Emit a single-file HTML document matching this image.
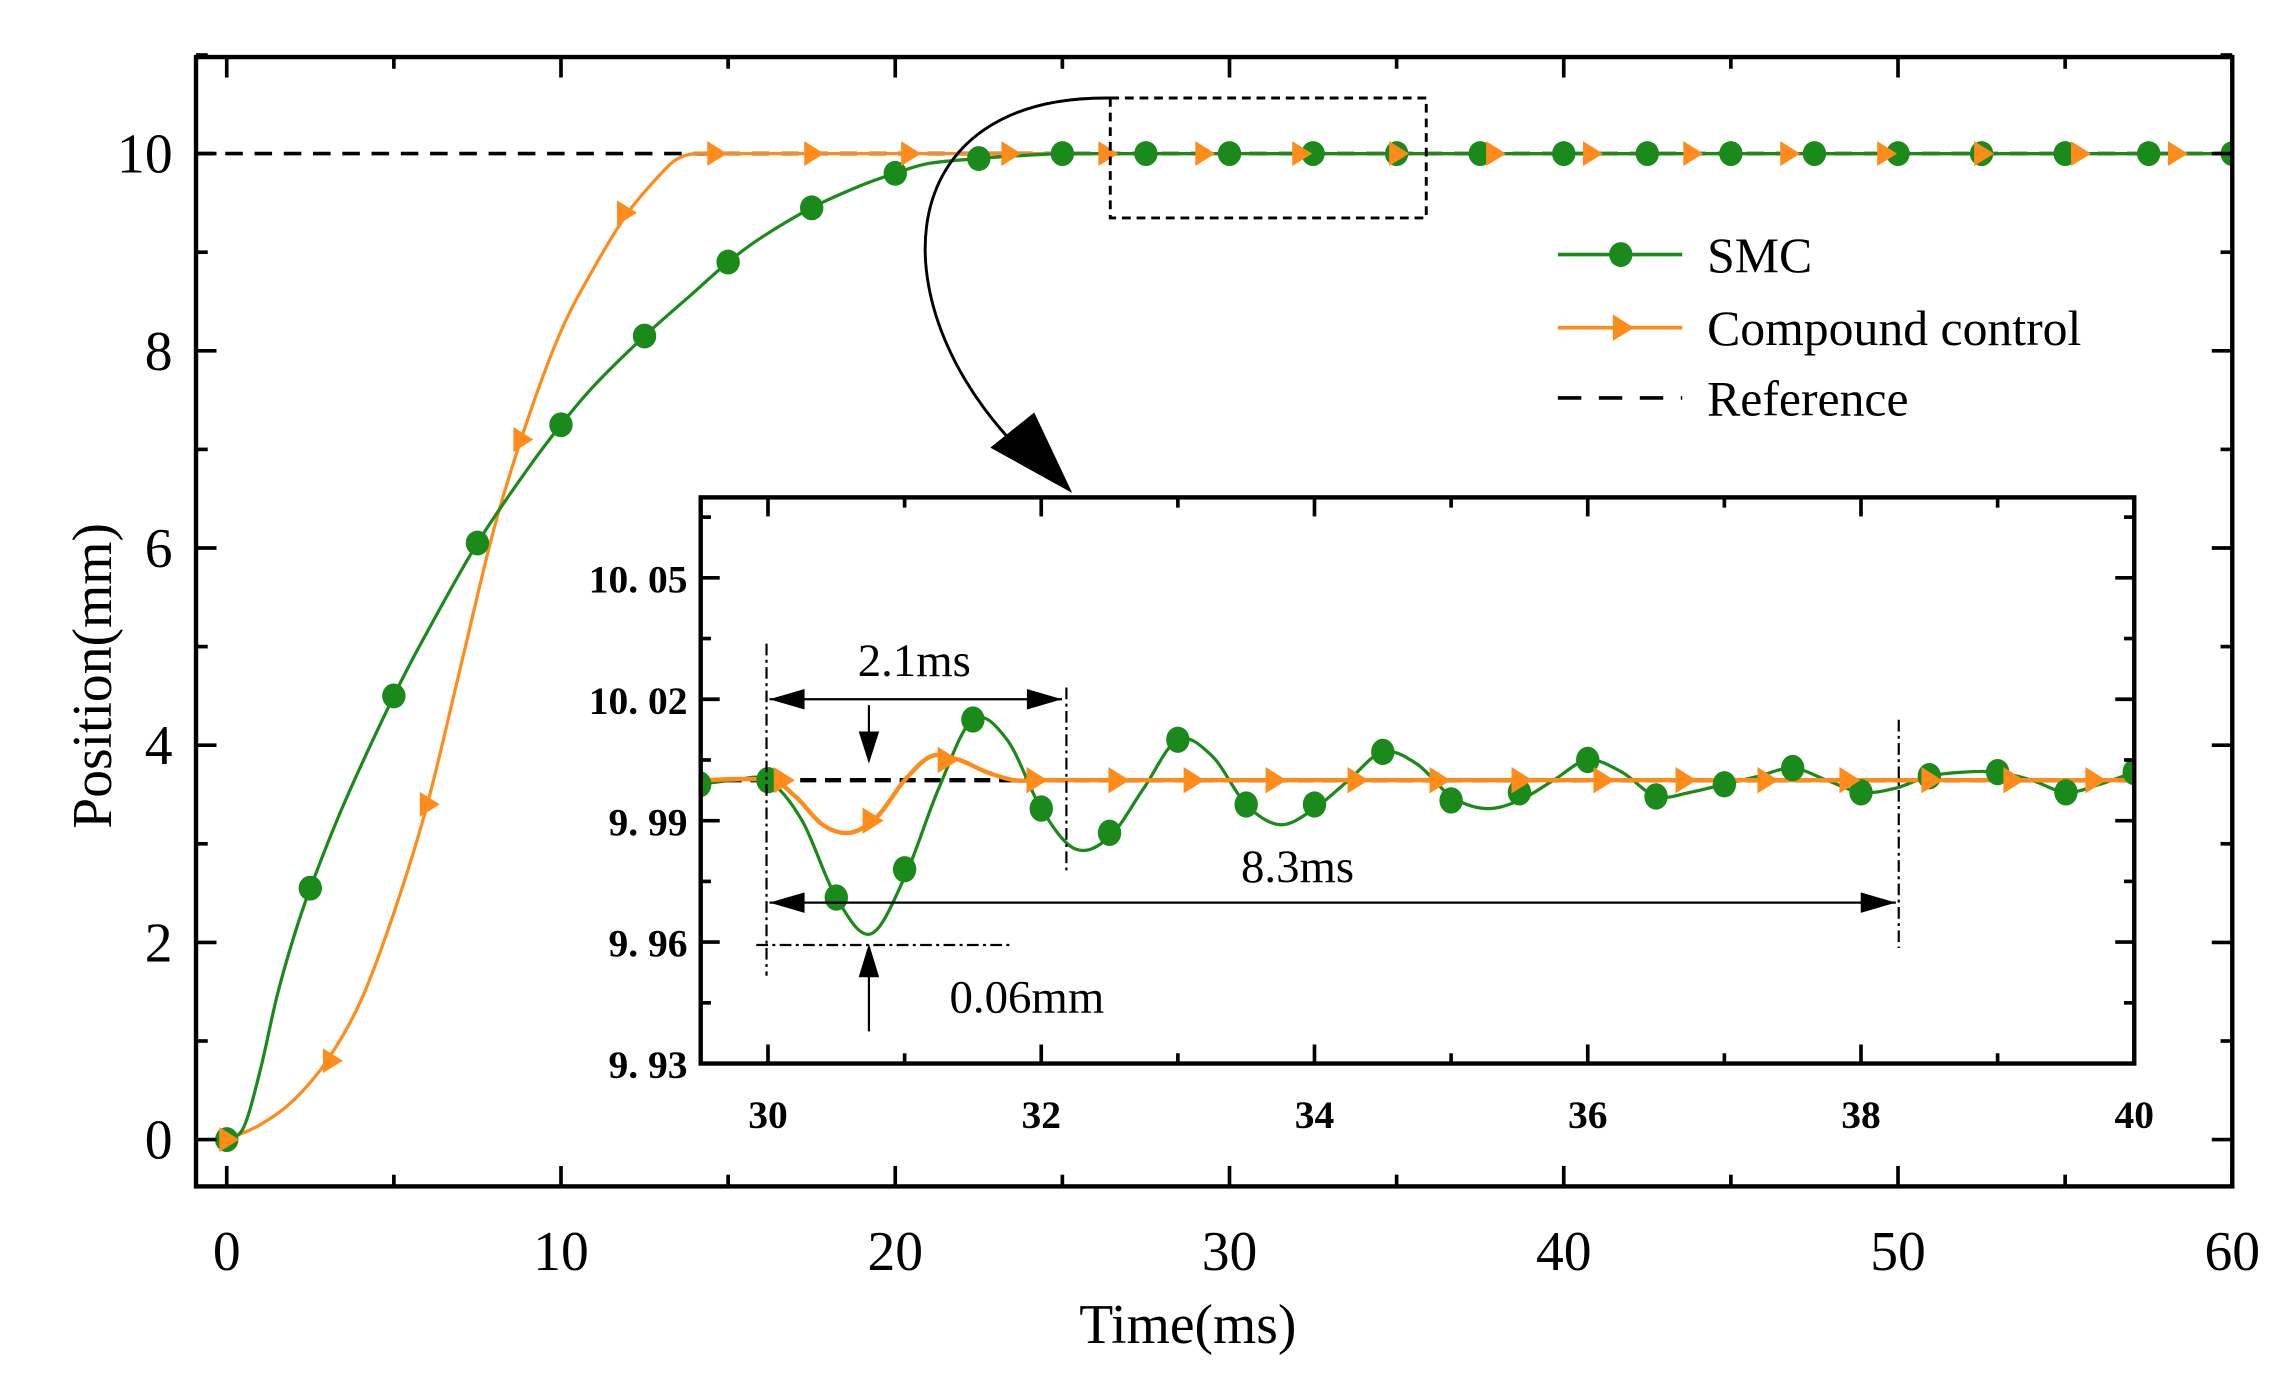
<!DOCTYPE html>
<html><head><meta charset="utf-8"><style>
html,body{margin:0;padding:0;background:#fff;}
svg{display:block;}
text{font-family:"Liberation Serif",serif;fill:#000;}
</style></head>
<body>
<svg id="chart" width="2282" height="1376" viewBox="0 0 1560 940.6" preserveAspectRatio="none" xmlns="http://www.w3.org/2000/svg">
<defs>
<clipPath id="mainclip"><rect x="134" y="39" width="1391" height="772"/></clipPath>
<clipPath id="insetclip"><rect x="480" y="341" width="978" height="385"/></clipPath>
</defs>
<g id="main"></g>
<g id="inset"></g>
</svg>
<script>
// ---- main chart data ----
const smcLineT = [0,0.5,1,1.5,2,2.5,3.5,5,6,7.5,9,10,11,12.5,14,15,16,17.5,19,20,21,22.5,24,25,26,27.5,30,35,40,45,50,55,60];
const smcLineV = [0,0.12,0.7,1.45,2.05,2.55,3.4,4.5,5.15,6.05,6.8,7.25,7.65,8.15,8.6,8.9,9.15,9.45,9.68,9.8,9.9,9.95,9.985,10,10,10,10,10,10,10,10,10,10];
const smcMarkT = [0,2.5,5,7.5,10,12.5,15,17.5,20,22.5,25,27.5,30,32.5,35,37.5,40,42.5,45,47.5,50,52.5,55,57.5,60];
const smcMarkV = [0,2.55,4.5,6.05,7.25,8.15,8.9,9.45,9.8,9.95,10,10,10,10,10,10,10,10,10,10,10,10,10,10,10];
const cmpLineT = [0,1,2,3,4,5,6,7,8,9,10,11,12,13,13.5,14,14.5,15,16,20,30,40,50,60];
const cmpLineV = [0,0.15,0.4,0.8,1.4,2.3,3.4,4.8,6.2,7.3,8.2,8.85,9.4,9.8,9.95,10,10,10,10,10,10,10,10,10];
const cmpMarkT = [0,3.1,6,8.8,11.9,14.6,17.5,20.4,23.4,26.3,29.2,32.1,35,37.9,40.8,43.8,46.7,49.6,52.5,55.4,58.3];
const cmpMarkV = [0,0.8,3.4,7.1,9.4,10,10,10,10,10,10,10,10,10,10,10,10,10,10,10,10];
const xTicks = [0,10,20,30,40,50,60];
const yTicks = [0,2,4,6,8,10];
// ---- inset data ----
const insSmcT = [29.5,29.75,30,30.25,30.5,30.75,31,31.25,31.5,31.75,32,32.25,32.5,32.75,33,33.25,33.5,33.75,34,34.25,34.5,34.75,35,35.25,35.5,35.75,36,36.25,36.5,36.75,37,37.25,37.5,37.75,38,38.25,38.5,38.75,39,39.25,39.5,39.75,40];
const insSmcV = [9.999,10.0,10.0,9.99,9.971,9.962,9.976,9.998,10.015,10.01,9.993,9.983,9.986,9.998,10.01,10.006,9.994,9.989,9.993,10.0,10.007,10.004,9.996,9.993,9.995,10.0,10.005,10.002,9.996,9.997,9.999,10.001,10.003,10.0,9.997,9.998,10.001,10.002,10.002,10.0,9.997,9.999,10.002];
const insSmcMarkT = [29.5,30,30.5,31,31.5,32,32.5,33,33.5,34,34.5,35,35.5,36,36.5,37,37.5,38,38.5,39,39.5,40];
const insSmcMarkV = [9.999,10.0,9.971,9.978,10.015,9.993,9.987,10.01,9.994,9.994,10.007,9.995,9.997,10.005,9.996,9.999,10.003,9.997,10.001,10.002,9.997,10.002];
const insCmpT = [29.5,30,30.2,30.4,30.6,30.8,31,31.2,31.4,31.6,31.8,32,32.5,34,36,38,40];
const insCmpV = [10.0,10.0,9.996,9.989,9.987,9.991,10.0,10.006,10.005,10.002,10.0,10.0,10.0,10.0,10.0,10.0,10.0];
const insCmpMarkT = [30.1,30.75,31.3,31.95,32.55,33.1,33.7,34.3,34.9,35.5,36.1,36.7,37.3,37.9,38.5,39.1,39.7];
const insCmpMarkV = [10.0,9.99,10.005,10.0,10.0,10.0,10.0,10.0,10.0,10.0,10.0,10.0,10.0,10.0,10.0,10.0,10.0];
const insXTicks = [30,32,34,36,38,40];
const insYTicks = [9.93,9.96,9.99,10.02,10.05];
const insYLabels = ["9. 93","9. 96","9. 99","10. 02","10. 05"];

const NS="http://www.w3.org/2000/svg";
const GREEN="#1a8a1a", ORANGE="#ff8c1a";
function mk(parent,tag,attrs){const e=document.createElementNS(NS,tag);for(const k in attrs)e.setAttribute(k,attrs[k]);parent.appendChild(e);return e;}
function smooth(pts){let d=`M${pts[0][0]},${pts[0][1]}`;for(let i=0;i<pts.length-1;i++){const p0=pts[Math.max(0,i-1)],p1=pts[i],p2=pts[i+1],p3=pts[Math.min(pts.length-1,i+2)];const c1x=p1[0]+(p2[0]-p0[0])/6,c1y=p1[1]+(p2[1]-p0[1])/6,c2x=p2[0]-(p3[0]-p1[0])/6,c2y=p2[1]-(p3[1]-p1[1])/6;d+=` C${c1x},${c1y} ${c2x},${c2y} ${p2[0]},${p2[1]}`;}return d;}
function tri(g,x,y,s){return mk(g,'polygon',{points:`${x-s*0.6},${y-s} ${x+s},${y} ${x-s*0.6},${y+s}`,fill:ORANGE});}

// ===== MAIN =====
const main=document.getElementById('main');
const X=t=>155+t*(1526-155)/60, Y=v=>779-v*(779-105)/10;
const plotG=mk(main,'g',{'clip-path':'url(#mainclip)'});
let e;
e=mk(plotG,'line',{x1:134,x2:1526,y1:Y(10),y2:Y(10),stroke:'#000','stroke-width':2.5,'stroke-dasharray':'12,8'});

e=mk(plotG,'path',{d:smooth(cmpLineT.map((t,i)=>[X(t),Y(cmpLineV[i])])),fill:'none',stroke:ORANGE,'stroke-width':2.2});

e=mk(plotG,'path',{d:smooth(smcLineT.map((t,i)=>[X(t),Y(smcLineV[i])])),fill:'none',stroke:GREEN,'stroke-width':2.2});

smcMarkT.forEach((t,i)=>{const c=mk(plotG,'ellipse',{cx:X(t),cy:Y(smcMarkV[i]),rx:8,ry:8.5,fill:GREEN});
});
cmpMarkT.forEach((t,i)=>{const c=tri(plotG,X(t),Y(cmpMarkV[i]),8.5);
});
// frame
e=mk(main,'rect',{x:134,y:39,width:1392,height:772,fill:'none',stroke:'#000','stroke-width':3});

for(let t=0;t<=60;t+=5){const maj=t%10===0,L=maj?14:8;mk(main,'line',{x1:X(t),x2:X(t),y1:811,y2:811-L,stroke:'#000','stroke-width':2.5});mk(main,'line',{x1:X(t),x2:X(t),y1:39,y2:39+L,stroke:'#000','stroke-width':2.5});}
for(let v=0;v<=11;v+=1){const maj=v%2===0,L=maj?14:8;mk(main,'line',{x1:134,x2:134+L,y1:Y(v),y2:Y(v),stroke:'#000','stroke-width':2.5});mk(main,'line',{x1:1526,x2:1526-L,y1:Y(v),y2:Y(v),stroke:'#000','stroke-width':2.5});}
xTicks.forEach(t=>{const tx=mk(main,'text',{x:X(t),y:868,'text-anchor':'middle','font-size':38});tx.textContent=t;
});
yTicks.forEach(v=>{const tx=mk(main,'text',{x:118,y:Y(v)+13,'text-anchor':'end','font-size':38});tx.textContent=v;
});
e=mk(main,'text',{x:812,y:918,'text-anchor':'middle','font-size':38});e.textContent='Time(ms)';

e=mk(main,'text',{x:0,y:0,'text-anchor':'middle','font-size':38,transform:'translate(76,462) rotate(-90)'});e.textContent='Position(mm)';

// zoom box & arrow
e=mk(main,'rect',{x:759,y:67,width:216,height:82,fill:'none',stroke:'#000','stroke-width':2,'stroke-dasharray':'6,4'});

e=mk(main,'path',{d:'M759,67 C600,65 600,220 708,318',fill:'none',stroke:'#000','stroke-width':2});

mk(main,'polygon',{points:'733,337 677,306 707,282',fill:'#000'});
// legend
const lg=mk(main,'g',{});
const legY=[174,224,272];
mk(lg,'line',{x1:1065,x2:1150,y1:legY[0],y2:legY[0],stroke:GREEN,'stroke-width':2.5});
mk(lg,'ellipse',{cx:1108,cy:legY[0],rx:8,ry:8.5,fill:GREEN});
mk(lg,'line',{x1:1065,x2:1150,y1:legY[1],y2:legY[1],stroke:ORANGE,'stroke-width':2.5});
tri(lg,1108,legY[1],9);
mk(lg,'line',{x1:1065,x2:1150,y1:legY[2],y2:legY[2],stroke:'#000','stroke-width':2.5,'stroke-dasharray':'16,12'});
['SMC','Compound control','Reference'].forEach((s,i)=>{const tx=mk(lg,'text',{x:1167,y:legY[i]+12,'font-size':34});tx.textContent=s;
});

// ===== INSET =====
const ins=document.getElementById('inset');
const IX=t=>525+(t-30)*(1459-525)/10, IY=v=>727-(v-9.93)*(727-395)/0.12;
e=mk(ins,'rect',{x:479,y:340,width:980,height:387,fill:'#fff',stroke:'none'});
const ig=mk(ins,'g',{'clip-path':'url(#insetclip)'});
e=mk(ig,'line',{x1:479,x2:1459,y1:IY(10),y2:IY(10),stroke:'#000','stroke-width':3,'stroke-dasharray':'11,6'});

e=mk(ig,'path',{d:smooth(insSmcT.map((t,i)=>[IX(t),IY(insSmcV[i])])),fill:'none',stroke:GREEN,'stroke-width':2.2});

e=mk(ig,'path',{d:smooth(insCmpT.map((t,i)=>[IX(t),IY(insCmpV[i])])),fill:'none',stroke:ORANGE,'stroke-width':3});

insSmcMarkT.forEach((t,i)=>{const c=mk(ig,'ellipse',{cx:IX(t),cy:IY(insSmcMarkV[i]),rx:8,ry:9,fill:GREEN});
});
insCmpMarkT.forEach((t,i)=>{const c=tri(ig,IX(t),IY(insCmpMarkV[i]),9);
});
e=mk(ins,'rect',{x:479,y:340,width:980,height:387,fill:'none',stroke:'#000','stroke-width':3});

for(let t=30;t<=40;t+=1){const L=t%2===0?13:7;mk(ins,'line',{x1:IX(t),x2:IX(t),y1:727,y2:727-L,stroke:'#000','stroke-width':2.5});mk(ins,'line',{x1:IX(t),x2:IX(t),y1:340,y2:340+L,stroke:'#000','stroke-width':2.5});}
for(let k=0;k<=9;k++){const v=9.93+k*0.015;const L=k%2===0?13:7;mk(ins,'line',{x1:479,x2:479+L,y1:IY(v),y2:IY(v),stroke:'#000','stroke-width':2.5});mk(ins,'line',{x1:1459,x2:1459-L,y1:IY(v),y2:IY(v),stroke:'#000','stroke-width':2.5});}
insXTicks.forEach(t=>{const tx=mk(ins,'text',{x:IX(t),y:771,'text-anchor':'middle','font-size':27,'font-weight':'bold'});tx.textContent=t;
});
insYTicks.forEach((v,i)=>{const tx=mk(ins,'text',{x:470,y:IY(v)+10,'text-anchor':'end','font-size':27,'font-weight':'bold'});tx.textContent=insYLabels[i];
});
// annotations
const an=mk(ins,'g',{stroke:'#000','stroke-width':1.5,fill:'none'});
mk(an,'line',{x1:524,x2:524,y1:440,y2:667,'stroke-dasharray':'8,3,2,3'});
mk(an,'line',{x1:729,x2:729,y1:470,y2:596,'stroke-dasharray':'8,3,2,3'});
mk(an,'line',{x1:1298,x2:1298,y1:492,y2:648,'stroke-dasharray':'8,3,2,3'});
mk(an,'line',{x1:517,x2:690,y1:646,y2:646,'stroke-dasharray':'8,3,2,3'});
mk(an,'line',{x1:526,x2:726,y1:478,y2:478});
mk(an,'line',{x1:526,x2:1296,y1:617,y2:617});
mk(an,'line',{x1:594,x2:594,y1:482,y2:520});
mk(an,'line',{x1:594,x2:594,y1:650,y2:705});
const ah=(pts)=>mk(ins,'polygon',{points:pts,fill:'#000'});
ah('526,478 550,471 550,485');ah('726,478 702,471 702,485');
ah('526,617 550,610 550,624');ah('1296,617 1272,610 1272,624');
ah('594,522 587,500 601,500');ah('594,645 587,668 601,668');
[['2.1ms',625,462],['8.3ms',887,603],['0.06mm',702,692]].forEach(a=>{const tx=mk(ins,'text',{x:a[1],y:a[2],'text-anchor':'middle','font-size':32});tx.textContent=a[0];
});
</script>
</body></html>
